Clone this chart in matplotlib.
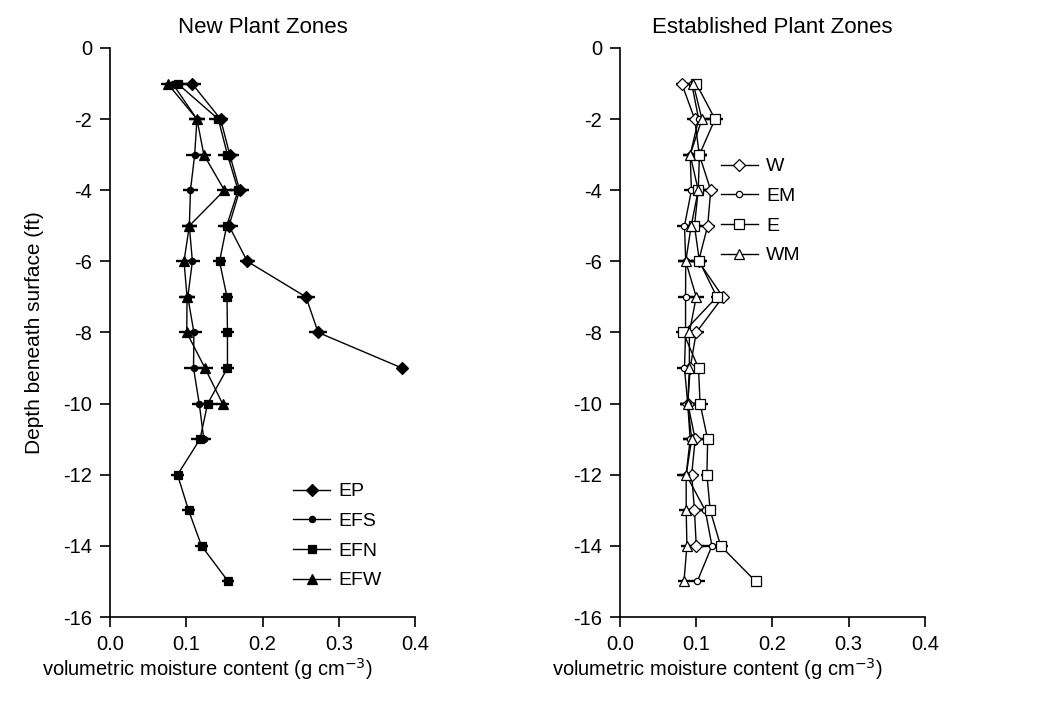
import matplotlib
matplotlib.use("Agg")
import matplotlib.pyplot as plt

plt.rcParams['font.family'] = ['Liberation Sans', 'DejaVu Sans']
plt.rcParams['axes.unicode_minus'] = False

# depth below surface (ft)
depth = [-1, -2, -3, -4, -5, -6, -7, -8, -9, -10, -11, -12, -13, -14, -15]

# new plant zones
ep = [0.1075, 0.145, 0.157, 0.170, 0.156, 0.180, 0.257, 0.273, 0.383]
ep_err = [0.012, 0.010, 0.012, 0.012, 0.012, 0.010, 0.012, 0.012, 0.006]
efs = [0.082, 0.114, 0.111, 0.1055, 0.104, 0.108, 0.102, 0.110, 0.1095, 0.117, 0.123]
efs_err = [0.010, 0.010, 0.012, 0.010, 0.010, 0.010, 0.010, 0.010, 0.012, 0.010, 0.010]
efn = [0.0885, 0.142, 0.154, 0.168, 0.153, 0.1436, 0.1534, 0.154, 0.154, 0.128, 0.118,
       0.0885, 0.103, 0.120, 0.155]
efn_err = [0.012, 0.012, 0.012, 0.012, 0.012, 0.008, 0.008, 0.008, 0.008, 0.012, 0.012,
           0.008, 0.008, 0.008, 0.008]
efw = [0.0754, 0.114, 0.123, 0.150, 0.104, 0.097, 0.101, 0.1006, 0.1245, 0.1475]
efw_err = [0.008, 0.010, 0.010, 0.010, 0.010, 0.010, 0.010, 0.010, 0.010, 0.008]

# established plant zones
w = [0.081, 0.098, 0.104, 0.119, 0.115, 0.103, 0.135, 0.100, 0.092, 0.089, 0.0986,
     0.094, 0.0977, 0.100]
w_err = [0.008, 0.010, 0.010, 0.010, 0.010, 0.010, 0.004, 0.010, 0.010, 0.010, 0.010,
         0.010, 0.010, 0.010]
em = [0.094, 0.1032, 0.092, 0.0937, 0.0846, 0.0862, 0.086, 0.086, 0.0846, 0.0888, 0.092,
      0.0868, 0.1118, 0.1206, 0.1013]
em_err = [0.010, 0.012, 0.010, 0.010, 0.010, 0.010, 0.010, 0.010, 0.010, 0.010, 0.010,
          0.010, 0.012, 0.012, 0.010]
e = [0.100, 0.1246, 0.1042, 0.1026, 0.0977, 0.1042, 0.127, 0.083, 0.103, 0.105, 0.115,
     0.114, 0.1183, 0.132, 0.178]
e_err = [0.008, 0.010, 0.010, 0.010, 0.010, 0.010, 0.008, 0.010, 0.008, 0.010, 0.008,
         0.008, 0.008, 0.010, 0.006]
wm = [0.096, 0.1075, 0.092, 0.1026, 0.0934, 0.0862, 0.100, 0.091, 0.091, 0.0888, 0.094,
      0.0868, 0.0868, 0.0878, 0.0839]
wm_err = [0.010, 0.010, 0.010, 0.012, 0.010, 0.010, 0.010, 0.010, 0.010, 0.010, 0.012,
          0.012, 0.010, 0.008, 0.008]

left_series = [
    ("EP", ep, ep_err, "D", 6.5),
    ("EFS", efs, efs_err, "o", 4.5),
    ("EFN", efn, efn_err, "s", 6),
    ("EFW", efw, efw_err, "^", 6.5),
]
right_series = [
    ("W", w, w_err, "D", 6.5),
    ("EM", em, em_err, "o", 4.5),
    ("E", e, e_err, "s", 6.5),
    ("WM", wm, wm_err, "^", 6.5),
]

fig = plt.figure(figsize=(10.42, 7.11), dpi=100)
ax1 = fig.add_axes([0.1056, 0.1322, 0.2927, 0.8003])
ax2 = fig.add_axes([0.595, 0.1322, 0.2927, 0.8003])

XLABEL = "volumetric moisture content (g cm$^{-3}$)"


def draw_panel(ax, series, fill, title):
    for name, vals, errs, mk, ms in series:
        d = depth[:len(vals)]
        ax.errorbar(vals, d, xerr=errs, fmt='none', ecolor='black',
                    elinewidth=1.7, capsize=0, zorder=2)
        ax.plot(vals, d, color='black', lw=1.0, marker=mk, ms=ms,
                mfc=fill, mec='black', mew=0.9, label=name, zorder=3)

    ax.set_xlim(0, 0.4)
    ax.set_ylim(-16, 0)
    ax.set_xticks([0.0, 0.1, 0.2, 0.3, 0.4])
    ax.set_xticklabels(["0.0", "0.1", "0.2", "0.3", "0.4"])
    ax.set_yticks(range(-16, 1, 2))
    ax.spines['top'].set_visible(False)
    ax.spines['right'].set_visible(False)
    for s in ('left', 'bottom'):
        ax.spines[s].set_linewidth(1.2)
    ax.tick_params(direction='out', length=7, width=1.2, labelsize=14.5, pad=6)
    ax.set_title(title, fontsize=16, pad=11)
    ax.set_xlabel(XLABEL, fontsize=14.5)
    ax.xaxis.set_label_coords(0.32, -0.068)


draw_panel(ax1, left_series, 'black', "New Plant Zones")
draw_panel(ax2, right_series, 'white', "Established Plant Zones")
ax1.set_ylabel("Depth beneath surface (ft)", fontsize=15, labelpad=14)

leg_kw = dict(frameon=False, fontsize=14, handlelength=1.9, labelspacing=0.62,
              handletextpad=0.45, borderpad=0.0, borderaxespad=0.0)
ax1.legend(loc='upper left', bbox_to_anchor=(0.60, 0.236), **leg_kw)
ax2.legend(loc='upper left', bbox_to_anchor=(0.33, 0.807), **leg_kw)

fig.savefig("out.png", dpi=100)
